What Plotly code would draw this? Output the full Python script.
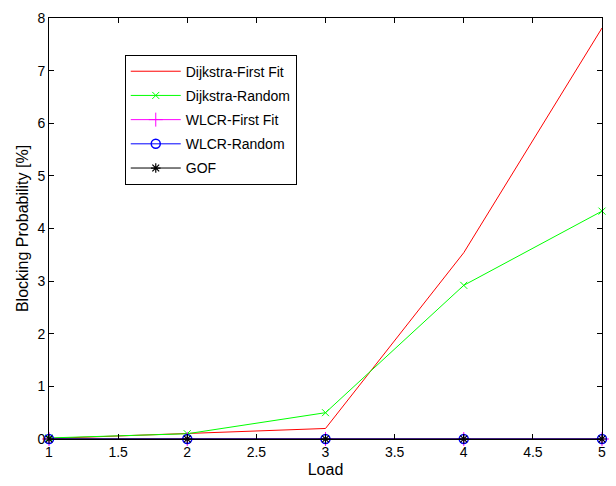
import plotly.graph_objects as go

load = [1, 2, 3, 4, 5]
dijkstra_ff = [0.01, 0.1, 0.2, 3.54, 7.81]
dijkstra_rand = [0.02, 0.1, 0.5, 2.92, 4.33]
wlcr_ff = [0, 0, 0, 0, 0]
wlcr_rand = [0, 0, 0, 0, 0]
gof = [0, 0, 0, 0, 0]

fig = go.Figure()
fig.add_trace(go.Scatter(x=load, y=dijkstra_ff, name="Dijkstra-First Fit", mode="lines",
                         line=dict(color="#ff0000", width=1), cliponaxis=False, legendgroup="a"))
fig.add_trace(go.Scatter(x=load, y=dijkstra_rand, name="Dijkstra-Random", mode="lines+markers",
                         line=dict(color="#00ff00", width=1),
                         marker=dict(symbol="x-thin-open", size=7, line=dict(color="#00ff00", width=1)),
                         cliponaxis=False, legendgroup="b"))
fig.add_trace(go.Scatter(x=load, y=wlcr_ff, name="WLCR-First Fit", mode="lines+markers",
                         line=dict(color="#ff00ff", width=1),
                         marker=dict(symbol="cross-thin-open", size=10, line=dict(color="#ff00ff", width=1)),
                         cliponaxis=False, legendgroup="c"))
fig.add_trace(go.Scatter(x=load, y=wlcr_rand, name="WLCR-Random", mode="lines+markers",
                         line=dict(color="#0000ff", width=1),
                         marker=dict(symbol="circle-open", size=9, line=dict(color="#0000ff", width=1.5)),
                         cliponaxis=False, legendgroup="d"))
fig.add_trace(go.Scatter(x=load, y=gof, name="GOF", mode="lines+markers",
                         line=dict(color="#000000", width=1),
                         marker=dict(symbol="asterisk-open", size=8, line=dict(color="#000000", width=1.2)),
                         cliponaxis=False, legendgroup="e"))

axis_common = dict(showline=True, linecolor="black", linewidth=1, mirror="ticks",
                   ticks="inside", ticklen=5, tickcolor="black", showgrid=False, zeroline=False,
                   tickfont=dict(family="Liberation Sans, Arial", size=14, color="black"))

fig.update_layout(
    width=616, height=486,
    margin=dict(l=49, r=13, t=10, b=47),
    paper_bgcolor="white", plot_bgcolor="white",
    font=dict(family="Liberation Sans, Arial", size=13, color="black"),
    xaxis=dict(range=[1, 5], dtick=0.5, tick0=1, title=dict(text="Load", standoff=5), **axis_common),
    yaxis=dict(range=[0, 8], dtick=1, title=dict(text="Blocking Probability [%]", standoff=4), **axis_common),
    legend=dict(x=0.137, y=0.913, xanchor="left", yanchor="top",
                bordercolor="black", borderwidth=1, bgcolor="white",
                font=dict(size=14), itemwidth=50, tracegroupgap=3),
    showlegend=True,
)

fig.write_html("out.html", config={"displayModeBar": False},
               post_script="document.body.style.margin='0';document.body.style.overflow='hidden';")
